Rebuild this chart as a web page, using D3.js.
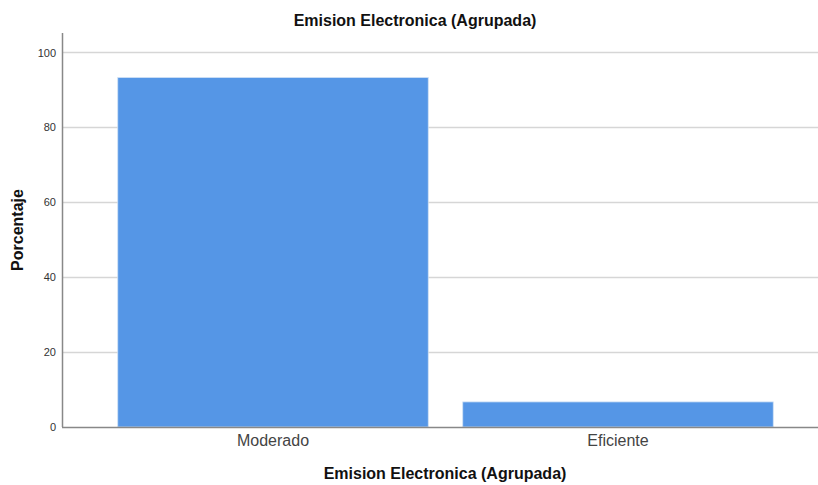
<!DOCTYPE html>
<html>
<head>
<meta charset="utf-8">
<script src="https://cdn.jsdelivr.net/npm/d3@7"></script>
<style>
  body { margin: 0; background: #fff; }
  text { font-family: "Liberation Sans", Arial, sans-serif; }
</style>
</head>
<body>
<svg></svg>
<script>
// chart data
const categories = ['Moderado', 'Eficiente'];
const percents = [93.3, 6.7];
const yTicks = [0, 20, 40, 60, 80, 100];

const title = 'Emision Electronica (Agrupada)';
const xTitle = 'Emision Electronica (Agrupada)';
const yTitle = 'Porcentaje';

let width = 818;
let height = 485;

let plotLeft = 62;
let plotRight = 818;
let plotTop = 33;
let plotBottom = 427;

let svg = d3.select('svg')
    .attr('width', width)
    .attr('height', height);

let yScale = d3.scaleLinear()
    .domain([0, 105.2])
    .range([plotBottom, plotTop]);

let xScale = d3.scaleBand()
    .domain(categories)
    .range([100.5, 790.5])
    .paddingInner(0.1)
    .paddingOuter(0.05);

// gridlines
svg.append('g')
    .selectAll('line')
    .data(yTicks.filter(d => d > 0))
    .enter()
    .append('line')
    .attr('x1', plotLeft)
    .attr('x2', plotRight)
    .attr('y1', d => Math.round(yScale(d)) + 0.5)
    .attr('y2', d => Math.round(yScale(d)) + 0.5)
    .attr('stroke', '#d6d6d6')
    .attr('stroke-width', 1.5);

// bars
svg.append('g')
    .selectAll('rect')
    .data(percents)
    .enter()
    .append('rect')
    .attr('x', (d, i) => xScale(categories[i]))
    .attr('width', xScale.bandwidth())
    .attr('y', d => yScale(d))
    .attr('height', d => plotBottom - yScale(d))
    .attr('fill', '#5596e6')
    .attr('stroke', '#cfe0f5')
    .attr('stroke-width', 0.8);

// y axis
let yAxis = d3.axisLeft(yScale)
    .tickValues(yTicks)
    .tickSize(0)
    .tickPadding(6);

let yg = svg.append('g')
    .attr('transform', 'translate(' + plotLeft + ',0)')
    .call(yAxis);
yg.select('.domain').remove();
yg.selectAll('text')
    .attr('font-size', 11)
    .attr('fill', '#333');

svg.append('line')
    .attr('x1', plotLeft + 0.5)
    .attr('x2', plotLeft + 0.5)
    .attr('y1', plotTop)
    .attr('y2', plotBottom)
    .attr('stroke', '#888')
    .attr('stroke-width', 1.5);

// x axis
let xAxis = d3.axisBottom(xScale)
    .tickSize(0)
    .tickPadding(8);

let xg = svg.append('g')
    .attr('transform', 'translate(0,' + plotBottom + ')')
    .call(xAxis);
xg.select('.domain').remove();
xg.selectAll('text')
    .attr('font-size', 16)
    .attr('fill', '#444');

svg.append('line')
    .attr('x1', plotLeft)
    .attr('x2', plotRight)
    .attr('y1', plotBottom + 0.5)
    .attr('y2', plotBottom + 0.5)
    .attr('stroke', '#888')
    .attr('stroke-width', 1.5);

// titles
svg.append('text')
    .attr('x', 415)
    .attr('y', 26)
    .attr('text-anchor', 'middle')
    .attr('font-size', 16)
    .attr('font-weight', 'bold')
    .attr('fill', '#111')
    .text(title);

svg.append('text')
    .attr('x', 445)
    .attr('y', 479)
    .attr('text-anchor', 'middle')
    .attr('font-size', 16)
    .attr('font-weight', 'bold')
    .attr('fill', '#111')
    .text(xTitle);

svg.append('text')
    .attr('transform', 'translate(23,230) rotate(-90)')
    .attr('text-anchor', 'middle')
    .attr('font-size', 16)
    .attr('font-weight', 'bold')
    .attr('fill', '#111')
    .text(yTitle);
</script>
</body>
</html>
